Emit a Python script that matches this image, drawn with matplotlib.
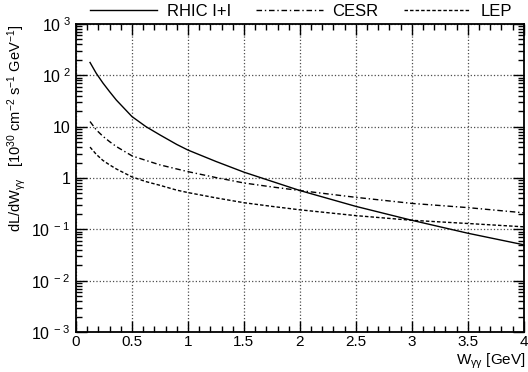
import numpy as np
import matplotlib
matplotlib.use('Agg')
import matplotlib.pyplot as plt
from matplotlib.ticker import FixedLocator, LogLocator, MultipleLocator, NullFormatter

plt.rcParams['font.family'] = ['Liberation Sans', 'DejaVu Sans']
plt.rcParams['mathtext.fontset'] = 'custom'
plt.rcParams['mathtext.rm'] = 'Liberation Sans'
plt.rcParams['mathtext.it'] = 'Liberation Sans:italic'

'''data read off the picture'''
w = [0.125, 0.18, 0.24, 0.3, 0.36, 0.5, 0.625, 0.75, 0.9, 1.0, 1.25, 1.5, 1.75, 2.0, 2.5, 3.0, 3.5, 4.0]
rhic = [178, 110, 71, 48, 33, 15.7, 10, 6.9, 4.5, 3.5, 2.1, 1.3, 0.86, 0.57, 0.28, 0.15, 0.084, 0.050]
cesr = [12.6, 8.7, 6.5, 5.1, 4.1, 2.7, 2.2, 1.8, 1.5, 1.33, 1.02, 0.80, 0.67, 0.57, 0.42, 0.32, 0.265, 0.21]
lep = [4.0, 2.9, 2.2, 1.8, 1.5, 1.05, 0.85, 0.72, 0.58, 0.52, 0.41, 0.33, 0.28, 0.24, 0.185, 0.15, 0.13, 0.112]

xticks = [0, 0.5, 1, 1.5, 2, 2.5, 3, 3.5, 4]
xticklabels = ['0', '0.5', '1', '1.5', '2', '2.5', '3', '3.5', '4']
yticks = [1e-3, 1e-2, 1e-1, 1, 10, 1e2, 1e3]
yticklabels = [r'$\mathregular{10^{\ -3}}$', r'$\mathregular{10^{\ -2}}$', r'$\mathregular{10^{\ -1}}$',
               '1', '10', r'$\mathregular{10^{\ 2}}$', r'$\mathregular{10^{\ 3}}$']

fig = plt.figure(figsize=(5.28, 3.72), dpi=100)
ax = fig.add_axes([0.144, 0.1075, 0.848, 0.828])

l1, = ax.plot(w, rhic, color='black', lw=1.0, ls='-')
l2, = ax.plot(w, cesr, color='black', lw=1.0, ls=(0, (4, 2, 1, 2)))
l3, = ax.plot(w, lep, color='black', lw=1.0, ls=(0, (2.5, 1.5)))

ax.set_yscale('log')
ax.set_xlim(0, 4)
ax.set_ylim(1e-3, 1e3)

ax.xaxis.set_major_locator(FixedLocator(xticks))
ax.set_xticklabels(xticklabels)
ax.xaxis.set_minor_locator(MultipleLocator(0.1))
ax.yaxis.set_major_locator(FixedLocator(yticks))
ax.set_yticklabels(yticklabels)
ax.yaxis.set_minor_locator(LogLocator(base=10, subs=np.arange(2, 10), numticks=20))
ax.yaxis.set_minor_formatter(NullFormatter())

ax.tick_params(which='both', direction='in', top=True, right=True, labelsize=11.5, width=1)
ax.tick_params(axis='x', labelsize=11, pad=2.5)
ax.tick_params(which='major', length=8)
ax.tick_params(axis='y', pad=4)
ax.tick_params(which='minor', length=4)
for s in ax.spines.values():
    s.set_linewidth(1.3)

ax.grid(True, which='major', color='0.3', ls=':', lw=0.9)

fig.text(526 / 528, 7 / 372, r'$\mathregular{W_{γγ}}$ [GeV]', fontsize=11, ha='right', va='baseline')
fig.text(0.032, 1 - 25 / 372,
         r'$\mathregular{dL/dW_{γγ}\ \ \ [10^{30}\ cm^{-2}\ s^{-1}\ GeV^{-1}]}$',
         rotation=90, ha='center', va='top', fontsize=10.5)

fig.legend([l1, l2, l3], ['RHIC I+I', 'CESR', 'LEP'], ncol=3, frameon=False,
           loc='center', bbox_to_anchor=(0.57, 0.97), fontsize=12,
           handlelength=4.0, handletextpad=0.6, columnspacing=1.5, borderpad=0)

plt.savefig('out.png', dpi=100)
